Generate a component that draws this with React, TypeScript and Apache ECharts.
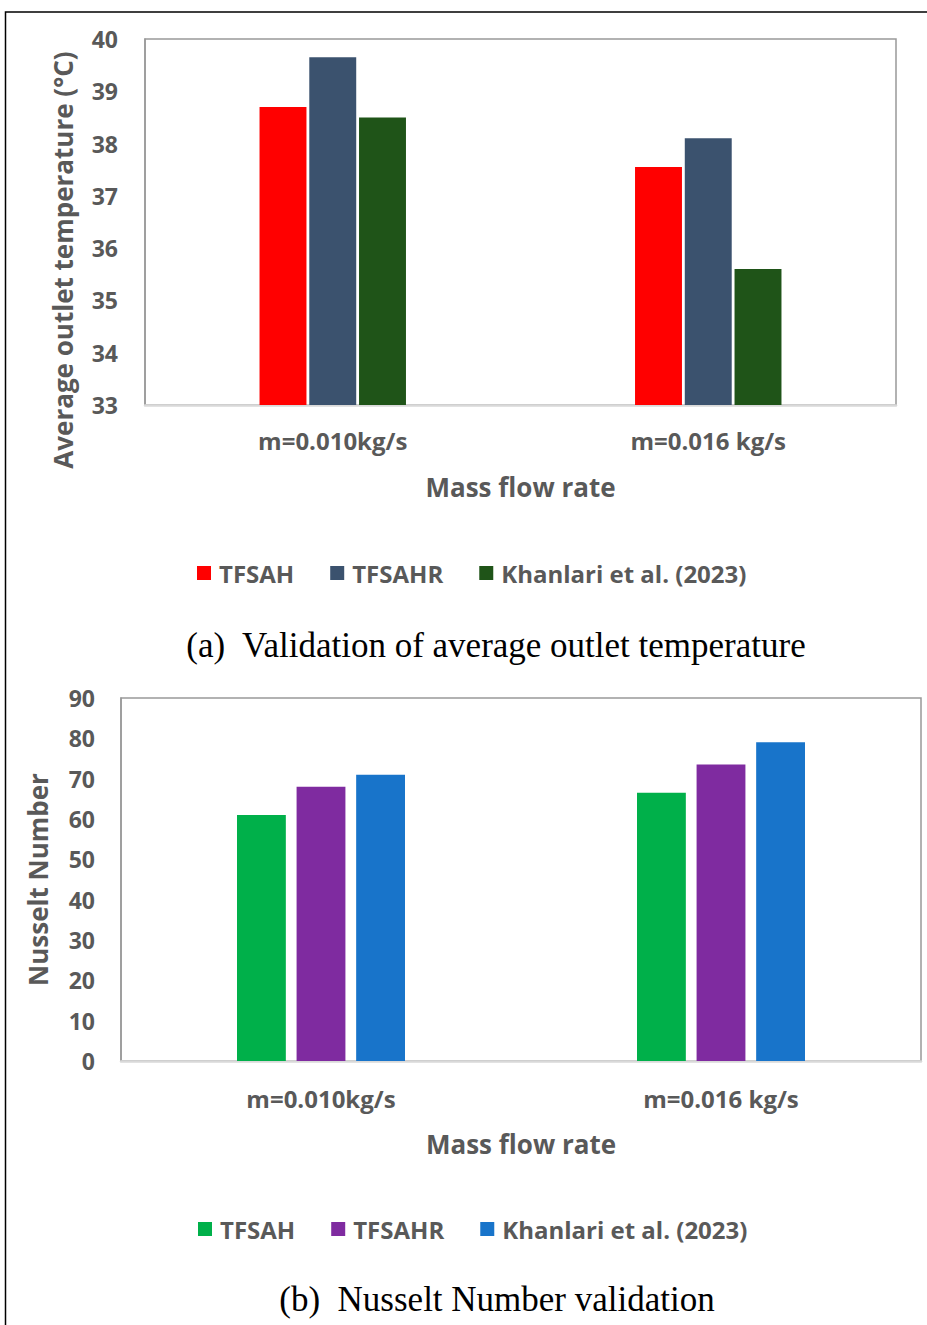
import React, { useEffect, useRef } from "react";
import * as echarts from "echarts";

const categories = ["m=0.010kg/s", "m=0.016 kg/s"];
const seriesNames = ["TFSAH", "TFSAHR", "Khanlari et al. (2023)"];

const tempTFSAH = [38.7, 37.55];
const tempTFSAHR = [39.65, 38.1];
const tempKhanlari = [38.5, 35.6];

const nuTFSAH = [61, 66.5];
const nuTFSAHR = [68, 73.5];
const nuKhanlari = [71, 79];

const colorsA = ["#FF0000", "#3B526E", "#1F5418"];
const colorsB = ["#00B04A", "#7F2BA0", "#1874CA"];

const FONT = "'Open Sans'";
const GRAY = "#595959";

export default function App() {
  const ref = useRef<HTMLDivElement>(null);
  useEffect(() => {
    document.body.style.margin = "0";
    const chart = echarts.init(ref.current!, undefined, { renderer: "svg" });
    const dataA = [tempTFSAH, tempTFSAHR, tempKhanlari];
    const dataB = [nuTFSAH, nuTFSAHR, nuKhanlari];
    const labelStyle = { color: GRAY, fontFamily: FONT, fontWeight: "bold" as const };
    const option: any = {
      animation: false,
      backgroundColor: "#ffffff",
      grid: [
        { left: 145, top: 39, width: 751, height: 366, show: true, borderColor: "#999", borderWidth: 1.5 },
        { left: 121, top: 698, width: 800, height: 363, show: true, borderColor: "#999", borderWidth: 1.5 },
      ],
      xAxis: [
        {
          type: "category", gridIndex: 0, data: categories,
          axisLine: { lineStyle: { color: "#d9d9d9", width: 2.5 } },
          axisTick: { show: false },
          axisLabel: { ...labelStyle, fontSize: 24, margin: 23 },
          name: "Mass flow rate", nameLocation: "middle", nameGap: 69,
          nameTextStyle: { ...labelStyle, fontSize: 26 },
        },
        {
          type: "category", gridIndex: 1, data: categories,
          axisLine: { lineStyle: { color: "#d9d9d9", width: 2.5 } },
          axisTick: { show: false },
          axisLabel: { ...labelStyle, fontSize: 24, margin: 25 },
          name: "Mass flow rate", nameLocation: "middle", nameGap: 70,
          nameTextStyle: { ...labelStyle, fontSize: 26 },
        },
      ],
      yAxis: [
        {
          type: "value", gridIndex: 0, min: 33, max: 40, interval: 1,
          axisLine: { show: true, lineStyle: { color: "#999", width: 1.5 } },
          axisTick: { show: false }, splitLine: { show: false },
          axisLabel: { ...labelStyle, fontSize: 23, margin: 27 },
        },
        {
          type: "value", gridIndex: 1, min: 0, max: 90, interval: 10,
          axisLine: { show: true, lineStyle: { color: "#999", width: 1.5 } },
          axisTick: { show: false }, splitLine: { show: false },
          axisLabel: { ...labelStyle, fontSize: 23, margin: 26 },
          name: "Nusselt Number", nameLocation: "middle", nameGap: 70, nameRotate: 90,
          nameTextStyle: { ...labelStyle, fontSize: 26 },
        },
      ],
      legend: [
        {
          left: 197, top: 561, padding: 0, itemWidth: 14, itemHeight: 14, itemGap: 36,
          icon: "rect",
          textStyle: { ...labelStyle, fontSize: 24, padding: [0, 0, 0, 3] },
          data: seriesNames.map((n, i) => ({ name: n, itemStyle: { color: colorsA[i] } })),
          selectedMode: false,
        },
        {
          left: 198, top: 1217, padding: 0, itemWidth: 14, itemHeight: 14, itemGap: 36,
          icon: "rect",
          textStyle: { ...labelStyle, fontSize: 24, padding: [0, 0, 0, 3] },
          data: seriesNames.map((n, i) => ({ name: n, itemStyle: { color: colorsB[i] } })),
          selectedMode: false,
        },
      ],
      series: [
        ...dataA.map((d, i) => ({
          name: seriesNames[i], type: "bar", xAxisIndex: 0, yAxisIndex: 0, data: d,
          itemStyle: { color: colorsA[i] }, barGap: "6%", barCategoryGap: "61%",
        })),
        ...dataB.map((d, i) => ({
          name: seriesNames[i], type: "bar", xAxisIndex: 1, yAxisIndex: 1, data: d,
          itemStyle: { color: colorsB[i] }, barGap: "22%", barCategoryGap: "58%",
        })),
      ],
      graphic: [
        {
          type: "rect", shape: { x: 5.5, y: 12, width: 940, height: 1340 },
          style: { fill: "none", stroke: "#000", lineWidth: 1.5 }, silent: true,
        },
        {
          type: "text", x: 63, y: 260, rotation: Math.PI / 2,
          style: {
            text: "Average outlet temperature (°C)", fill: GRAY, font: `bold 26px ${FONT}`,
            align: "center", verticalAlign: "middle",
          },
        },
        {
          type: "text", x: 496, y: 645,
          style: {
            text: "(a)  Validation of average outlet temperature", fill: "#000",
            font: "35px 'Liberation Serif'", align: "center", verticalAlign: "middle",
          },
        },
        {
          type: "text", x: 497, y: 1299,
          style: {
            text: "(b)  Nusselt Number validation", fill: "#000",
            font: "35px 'Liberation Serif'", align: "center", verticalAlign: "middle",
          },
        },
      ],
    };
    chart.setOption(option);
    return () => chart.dispose();
  }, []);
  return <div ref={ref} style={{ position: "absolute", left: 0, top: 0, width: 927, height: 1325 }} />;
}
